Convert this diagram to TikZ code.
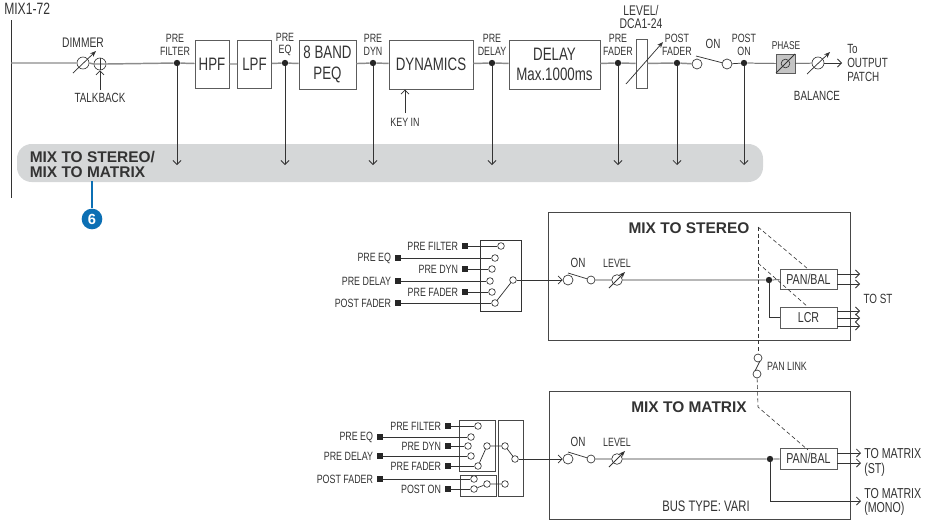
\documentclass[tikz,border=0pt]{standalone}
\usepackage{fontspec}
\setmainfont[FakeStretch=0.74]{Liberation Sans}
\newfontfamily\titlefont{Liberation Sans}
\usetikzlibrary{arrows.meta,positioning}
\definecolor{inkdark}{HTML}{333333}
\definecolor{linegray}{HTML}{8C8C8C}
\definecolor{bandgray}{HTML}{D5D7D8}
\definecolor{phasegray}{HTML}{C4C4C4}
\definecolor{badgeblue}{HTML}{0B6FB4}
\tikzset{
  >={Straight Barb[length=3pt,width=6pt]},
  sized/.style 2 args={minimum width=#1*0.75pt,minimum height=#2*0.75pt},
  txt/.style={inner sep=0pt,text=inkdark,align=center,font=\fontsize{9}{9.6}\selectfont},
  midtxt/.style={txt,font=\fontsize{10}{10.6}\selectfont},
  widetxt/.style={txt,font=\fontsize{10.8}{11}\selectfont},
  bigtxt/.style={txt,font=\fontsize{13.5}{15.5}\selectfont},
  titletxt/.style={inner sep=0pt,text=inkdark,align=left,font=\titlefont\bfseries\fontsize{11.6}{11.4}\selectfont},
  blockbox/.style={draw=inkdark!80,line width=0.6pt,fill=white,inner sep=0pt},
  framebox/.style={draw=inkdark!90,line width=0.6pt,inner sep=0pt},
  swcircle/.style={circle,draw=inkdark,line width=0.5pt,fill=white,inner sep=0pt,minimum size=7.5pt},
  tinycircle/.style={swcircle,minimum size=5pt},
  tapdot/.style={circle,fill=black!85,inner sep=0pt,minimum size=4.8pt},
  srcsquare/.style={fill=black!85,inner sep=0pt,minimum size=4.6pt},
  mainline/.style={draw=linegray,line width=1.1pt},
  sigline/.style={draw=inkdark,line width=0.55pt},
  dashline/.style={draw=inkdark,line width=0.45pt,dash pattern=on 3pt off 2pt},
  varline/.style={draw=inkdark,line width=0.55pt,-{Stealth[length=4.5pt,width=3.5pt]}},
}
\begin{document}
\begin{tikzpicture}[x=0.75pt,y=-0.75pt]
\useasboundingbox (0,0) rectangle (929,522);

\node[sized={746}{38},fill=bandgray,rounded corners=11pt,inner sep=0pt] (band) at (390,163) {};
\coordinate (bustop) at (11,20);
\coordinate (busbottom) at (11,198);
\coordinate (busout) at (11,63);
\draw[draw=inkdark,line width=0.6pt] (bustop) -- (busbottom);
\node[txt,anchor=west,font=\fontsize{12.3}{13}\selectfont] (busname) at (4,9) {MIX1-72};

\node[swcircle,draw=inkdark,fill=none,minimum size=9pt] (dimmer) at (83,63) {};
\node[swcircle,fill=none,minimum size=9pt] (talk) at (100,64) {};
\node[blockbox,bigtxt,sized={34}{48}] (hpf) at (212,64) {HPF};
\node[blockbox,bigtxt,sized={34}{48}] (lpf) at (254.5,64) {LPF};
\node[blockbox,bigtxt,sized={57}{49}] (peq) at (327.5,64.5) {8 BAND\\PEQ};
\node[blockbox,bigtxt,sized={84}{49}] (dyn) at (431,64.5) {DYNAMICS};
\node[blockbox,bigtxt,sized={91}{49}] (delay) at (554.5,64.5) {DELAY\\Max.1000ms};
\node[blockbox,sized={11}{49}] (fader) at (641.5,63.5) {};
\node[swcircle] (onin) at (697,64) {};
\node[swcircle] (onout) at (727,64) {};
\node[blockbox,fill=phasegray,sized={19}{19}] (phase) at (785.5,63.5) {};
\node[circle,draw=inkdark,line width=0.5pt,inner sep=0pt,minimum size=6.5pt] (phasering) at (785.5,63.5) {};
\node[swcircle,fill=none,minimum size=9pt] (balance) at (818,63) {};
\coordinate (outend) at (842,63);

\foreach \tap/\x in {prefilter/177,preeq/285,predyn/373,predelay/492,prefader/618,postfader/677,poston/744}{
  \node[tapdot] (\tap) at (\x,63) {};
  \coordinate (\tap end) at (\x,165);
  \draw[->,sigline] (\tap) -- (\tap end);
}

\draw[mainline] (busout) -- (dimmer.west) (dimmer.east) -- (talk.west) (talk.west) -- (talk.east);
\draw[mainline] (talk.east) -- (prefilter) -- (hpf);
\draw[mainline] (hpf) -- (lpf) (lpf) -- (preeq) -- (peq) (peq) -- (predyn) -- (dyn);
\draw[mainline] (dyn) -- (predelay) -- (delay) (delay) -- (prefader) -- (fader);
\draw[mainline] (fader) -- (postfader) -- (onin);
\draw[sigline] (onout) -- (poston) -- (phase) (phase) -- (balance);
\draw[->,sigline] (balance) -- (outend);
\draw[sigline] (talk.north) -- (talk.south);

\coordinate (dima) at (73,73);
\coordinate (dimb) at (96,51);
\draw[varline] (dima) -- (dimb);
\coordinate (talkin) at (100,90);
\draw[->,sigline] (talkin) -- (talk);
\coordinate (keyin) at (405,113);
\coordinate (keyto) at (405,89.5);
\draw[->,sigline] (keyin) -- (keyto);
\coordinate (fada) at (626,84);
\coordinate (fadb) at (663,42);
\draw[varline] (fada) -- (fadb);
\coordinate (onblade) at (696,56);
\draw[sigline] (onblade) -- (onout);
\coordinate (phasea) at (776,73);
\coordinate (phaseb) at (795,54);
\draw[sigline] (phasea) -- (phaseb);
\coordinate (bala) at (807,74);
\coordinate (balb) at (830,52);
\draw[varline] (bala) -- (balb);

\node[txt,font=\fontsize{10.4}{11}\selectfont] (dimmerlabel) at (83,43) {DIMMER};
\node[midtxt] (talklabel) at (100,98) {TALKBACK};
\node[txt] (prefilterlabel) at (175,44.5) {PRE\\FILTER};
\node[txt] (preeqlabel) at (285,44.5) {PRE\\EQ};
\node[txt] (predynlabel) at (373,45) {PRE\\DYN};
\node[txt] (keylabel) at (405,122) {KEY IN};
\node[txt] (predelaylabel) at (492,44.5) {PRE\\DELAY};
\node[txt] (prefaderlabel) at (618,44.5) {PRE\\FADER};
\node[txt,font=\fontsize{10.5}{10.4}\selectfont] (levellabel) at (641,17) {LEVEL/\\DCA1-24};
\node[txt] (postfaderlabel) at (677,44.5) {POST\\FADER};
\node[midtxt] (onlabel) at (713,44) {ON};
\node[txt] (postonlabel) at (744,45) {POST\\ON};
\node[txt,font=\fontsize{8.5}{9}\selectfont] (phaselabel) at (786,46) {PHASE};
\node[midtxt] (balancelabel) at (817,96) {BALANCE};
\node[midtxt,align=left,anchor=west] (patchlabel) at (847,63) {To\\OUTPUT\\PATCH};
\node[titletxt,anchor=west] (bandlabel) at (29.5,164.5) {MIX TO STEREO/\\MIX TO MATRIX};

\node[circle,fill=badgeblue,inner sep=0pt,minimum size=15.5pt,text=white,font=\titlefont\bfseries\fontsize{11}{11}\selectfont] (badge) at (92,219) {6};
\coordinate (bandfoot) at (92,181);
\draw[draw=badgeblue,line width=1.1pt] (bandfoot) -- (badge);

\node[framebox,sized={302}{128}] (stereo) at (699,276) {};
\node[titletxt] (stereotitle) at (689,228) {MIX TO STEREO};
\node[framebox,sized={41}{71},draw=inkdark] (stsel) at (500.5,275.5) {};
\foreach \nm/\lab/\y/\sq/\cx in {a/PRE FILTER/246/465/501,b/PRE EQ/258/398/495,c/PRE DYN/269/465/492,d/PRE DELAY/281/398/490,e/PRE FADER/292/465/492,f/POST FADER/303/398/495}{
  \node[srcsquare] (sq\nm) at (\sq,\y) {};
  \node[txt,left=2.5pt of sq\nm] (lab\nm) {\lab};
  \node[tinycircle] (st\nm) at (\cx,\y) {};
  \draw[sigline] (sq\nm) -- (st\nm);
}
\node[tinycircle] (stsw) at (513,280) {};
\draw[sigline] (stf) -- (stsw);
\node[swcircle] (stona) at (568,280) {};
\node[swcircle,minimum size=6pt] (stonb) at (591,280) {};
\node[swcircle,fill=none,minimum size=8pt] (stlev) at (617,280) {};
\node[tapdot] (stdot) at (769,280) {};
\node[blockbox,sized={57}{20},widetxt] (stpan) at (808.5,279) {PAN/BAL};
\node[blockbox,sized={57}{21},widetxt] (stlcr) at (808.5,317.5) {LCR};
\node[midtxt] (stonlabel) at (578,263) {ON};
\node[txt] (stlevlabel) at (617,263) {LEVEL};
\node[midtxt] (tostlabel) at (878,299) {TO ST};
\draw[->,sigline] (stsw) -- (stona);
\draw[sigline] (stonb) -- (stlev) (stlev) -- (stdot) -- (stpan);
\draw[sigline] (stdot) |- (stlcr);
\coordinate (stblade) at (568,273);
\draw[sigline] (stblade) -- (stonb);
\coordinate (stleva) at (609,288);
\coordinate (stlevb) at (625,272);
\draw[varline] (stleva) -- (stlevb);
\foreach \nm/\from/\y in {pa/stpan/274,pb/stpan/284,la/stlcr/311,lb/stlcr/318,lc/stlcr/326}{
  \coordinate (out\nm) at (860,\y);
  \draw[->,sigline] (\from.east |- out\nm) -- (out\nm);
}

\node[framebox,sized={301}{128}] (matrix) at (699.5,455) {};
\node[titletxt] (matrixtitle) at (689,407) {MIX TO MATRIX};
\node[txt,font=\fontsize{11.4}{12}\selectfont] (bustype) at (706,506) {BUS TYPE: VARI};
\node[framebox,sized={36}{51}] (mxupper) at (477,445.5) {};
\node[framebox,sized={36}{21}] (mxlower) at (478,485.5) {};
\node[framebox,sized={25}{76}] (mxjoin) at (510.5,458) {};
\foreach \nm/\lab/\y/\sq/\cx in {a/PRE FILTER/426/448/478,b/PRE EQ/437/380/471,c/PRE DYN/446/448/468,d/PRE DELAY/456/380/471,e/PRE FADER/466/448/478,f/POST FADER/479/380/474,g/POST ON/489/448/474}{
  \node[srcsquare] (mq\nm) at (\sq,\y) {};
  \node[txt,left=2.5pt of mq\nm] (mlab\nm) {\lab};
  \node[tinycircle] (mx\nm) at (\cx,\y) {};
  \draw[sigline] (mq\nm) -- (mx\nm);
}
\node[tinycircle] (mxpick) at (487,446) {};
\node[tinycircle] (mxpost) at (487,484) {};
\node[tinycircle] (mxjoina) at (505,446) {};
\node[tinycircle] (mxjoinb) at (505,484) {};
\node[tinycircle] (mxsw) at (515,459) {};
\draw[sigline] (mxe) -- (mxpick);
\draw[sigline] (mxg) -- (mxpost);
\draw[sigline] (mxpick) -- (mxjoina) (mxpost) -- (mxjoinb) (mxjoina) -- (mxsw);
\node[swcircle] (mxona) at (568,459) {};
\node[swcircle,minimum size=6pt] (mxonb) at (591,459) {};
\node[swcircle,fill=none,minimum size=8pt] (mxlev) at (617,459) {};
\node[tapdot] (mxdot) at (770,459) {};
\node[blockbox,sized={57}{21},widetxt] (mxpan) at (808.5,458.5) {PAN/BAL};
\node[midtxt] (mxonlabel) at (578,442) {ON};
\node[txt] (mxlevlabel) at (617,442) {LEVEL};
\draw[->,sigline] (mxsw) -- (mxona);
\draw[sigline] (mxonb) -- (mxlev) (mxlev) -- (mxdot) -- (mxpan);
\coordinate (mxblade) at (568,452);
\draw[sigline] (mxblade) -- (mxonb);
\coordinate (mxleva) at (609,467);
\coordinate (mxlevb) at (625,451);
\draw[varline] (mxleva) -- (mxlevb);
\foreach \nm/\y in {pa/453,pb/463}{
  \coordinate (mout\nm) at (861,\y);
  \draw[->,sigline] (mxpan.east |- mout\nm) -- (mout\nm);
}
\coordinate (moutmono) at (861,501);
\draw[->,sigline] (mxdot) |- (moutmono);
\node[widetxt,align=left,anchor=west] (tomxst) at (864,462.5) {TO MATRIX\\(ST)};
\node[widetxt,align=left,anchor=west] (tomxmono) at (864,502) {TO MATRIX\\(MONO)};

\node[tinycircle,minimum size=6pt] (linka) at (758,358) {};
\node[tinycircle,minimum size=6pt] (linkb) at (757,374) {};
\node[txt] (linklabel) at (787,366) {PAN LINK};
\coordinate (linkc) at (755,371);
\coordinate (linkd) at (760,361);
\draw[sigline] (linkc) -- (linkd);
\coordinate (dashtop) at (758,227);
\coordinate (dashmid) at (758,263);
\coordinate (dashlow) at (758,407);
\coordinate (panst) at (808,269);
\coordinate (lcrst) at (808,307);
\coordinate (panmx) at (808,450);
\draw[dashline] (dashtop) -- (linka);
\draw[dashline] (dashtop) -- (panst);
\draw[dashline] (dashmid) -- (lcrst);
\draw[dashline] (linkb) -- (dashlow) -- (panmx);
\end{tikzpicture}
\end{document}
